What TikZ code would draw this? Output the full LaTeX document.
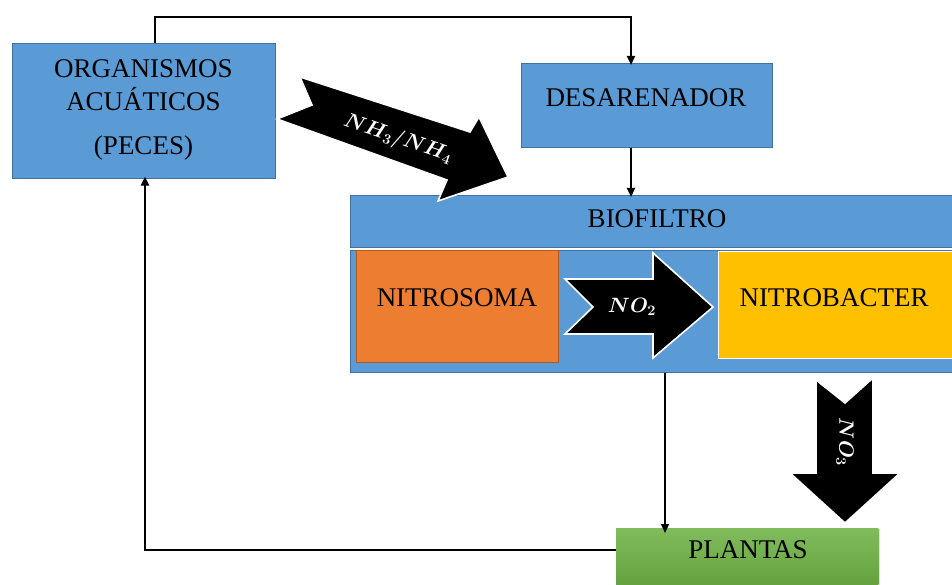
\documentclass[tikz,border=0pt]{standalone}
\usepackage{fontspec}
\setmainfont{Liberation Serif}
\usetikzlibrary{arrows.meta,shadows}
\definecolor{myblue}{HTML}{5B9BD5}
\definecolor{bdblue}{HTML}{41719C}
\definecolor{myorange}{HTML}{ED7D31}
\definecolor{bdorange}{HTML}{AE5A21}
\definecolor{myyellow}{HTML}{FFC000}
\definecolor{greentop}{HTML}{80BC5C}
\definecolor{greenbot}{HTML}{5E9C38}
\begin{document}
\begin{tikzpicture}[x=1pt,y=-1pt,
  box/.style={draw=bdblue, fill=myblue, line width=0.6pt, inner sep=0pt, anchor=north west},
  lbl/.style={inner sep=0pt, font=\fontsize{27}{30}\selectfont},
  conn/.style={line width=2pt, -{Triangle[length=9pt,width=8pt]}},
  blockarrow/.style={fill=black, draw=white, line width=1.6pt, line join=miter},
  arrlbl/.style={text=white, inner sep=0pt, font=\fontsize{21}{24}\selectfont\boldmath}]
\useasboundingbox (0,0) rectangle (952,585);
\clip (0,0) rectangle (952,585);
% boxes
\node[box, minimum width=263pt, minimum height=135pt] (org) at (12,43) {};
\node[box, minimum width=251pt, minimum height=84pt] (des) at (521,63) {};
\node[box, minimum width=620pt, minimum height=52pt] (bio) at (350,195) {};
\node[box, minimum width=620pt, minimum height=122pt] (bio2) at (350,250) {};
\node[box, draw=bdorange, fill=myorange, minimum width=202pt, minimum height=112pt] (nso) at (356,250) {};
\node[box, draw=white, fill=myyellow, line width=1.2pt, minimum width=250pt, minimum height=107pt] (nba) at (718,251) {};
\node[box, draw=none, top color=greentop, bottom color=greenbot, minimum width=262pt, minimum height=70pt,
      drop shadow={opacity=0.25, shadow xshift=2pt, shadow yshift=-1pt}] (pla) at (616,528) {};
% texts
\node[lbl] (orgt1) at (143.5,69) {ORGANISMOS};
\node[lbl] (orgt2) at (143.5,99) {ACUÁTICOS};
\node[lbl] (orgt3) at (143.5,148) {(PECES)};
\node[lbl] (dest) at (646,98) {DESARENADOR};
\node[lbl] (biot) at (657,219) {BIOFILTRO};
\node[lbl] (nsot) at (457,298) {NITROSOMA};
\node[lbl] (nbat) at (834,298) {NITROBACTER};
\node[lbl] (plat) at (748,550) {PLANTAS};
% connectors
\coordinate (c155) at (155,17);
\coordinate (c631) at (631,0);
\coordinate (c665) at (665,0);
\coordinate (ret) at (145,550);
\draw[conn] (org.north -| c155) -- (c155) -| ([yshift=-2pt]des.north -| c631);
\draw[conn] (des.south -| c631) -- ([yshift=-2pt]bio.north -| c631);
\draw[conn] (bio2.south -| c665) -- ([yshift=-5pt]pla.north -| c665);
\draw[conn] (pla.west |- ret) -| ([yshift=2pt]org.south -| ret);
% block arrows
\draw[blockarrow] (300,77) -- (470,132) -- (479,117) -- (508,177) -- (438,201) -- (447,180) -- (277,119) -- (312,105) -- cycle;
\node[arrlbl, rotate=-19] (nh) at (398,139) {$NH_3/NH_4$};
\draw[blockarrow] (565,279) -- (653,279) -- (653,253) -- (713,307) -- (653,358) -- (653,334) -- (565,334) -- (593,307) -- cycle;
\node[arrlbl] (no2) at (632,307) {$NO_2$};
\draw[blockarrow] (816,380) -- (845,403) -- (873,378) -- (873,473) -- (900,473) -- (845,523) -- (790,473) -- (816,473) -- cycle;
\node[arrlbl, rotate=-90] (no3) at (845,442) {$NO_3$};
\end{tikzpicture}
\end{document}
